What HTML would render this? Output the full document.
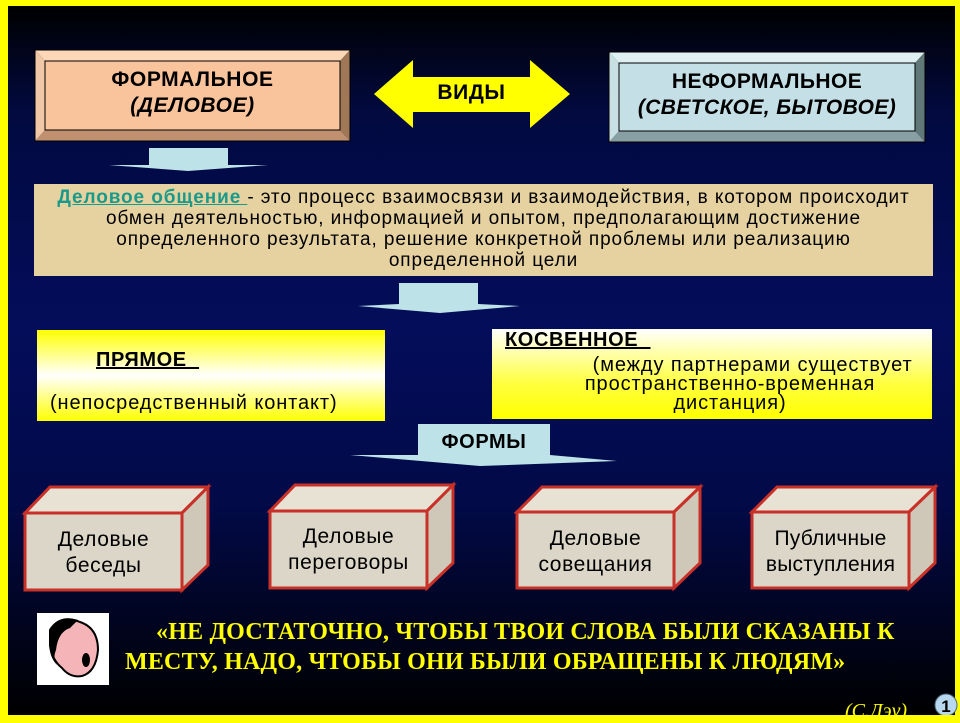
<!DOCTYPE html>
<html><head><meta charset="utf-8"><style>
*{margin:0;padding:0;box-sizing:border-box}
body{width:960px;height:720px;overflow:hidden;background:#ffff00;position:relative;font-family:"Liberation Sans",sans-serif}
#bg{position:absolute;left:8px;top:6px;width:947px;height:709px;background:linear-gradient(#000 0%,#020a40 15%,#030d5a 45%,#020a48 70%,#000 100%);overflow:hidden}
.abs{position:absolute}
.t{position:absolute;text-align:center;color:#000}
</style></head><body>
<div id="bg"></div>
<svg class="abs" style="left:0;top:0" width="960" height="720">
<defs>
<linearGradient id="yw" x1="0" y1="0" x2="0" y2="1"><stop offset="0" stop-color="#ffff00"/><stop offset="0.5" stop-color="#ffffff"/><stop offset="1" stop-color="#ffff00"/></linearGradient>
<linearGradient id="yw2" x1="0" y1="0" x2="0" y2="1"><stop offset="0" stop-color="#ffffff"/><stop offset="0.6" stop-color="#ffff40"/><stop offset="1" stop-color="#ffff00"/></linearGradient>
</defs>
<polygon points="35,50 350,50 340,61 45,61" fill="#fcd8b8"/>
<polygon points="350,50 350,141 340,130 340,61" fill="#a07858"/>
<polygon points="35,141 350,141 340,130 45,130" fill="#c09070"/>
<polygon points="35,50 45,61 45,130 35,141" fill="#f0c8a8"/>
<rect x="45" y="61" width="295" height="69" fill="#f9c39b" stroke="#000" stroke-width="1"/>
<rect x="35" y="50" width="315" height="91" fill="none" stroke="#000" stroke-width="1"/>
<polygon points="609,52 925,52 915,63 619,63" fill="#dff0f2"/>
<polygon points="925,52 925,142 915,131 915,63" fill="#607878"/>
<polygon points="609,142 925,142 915,131 619,131" fill="#88a0a4"/>
<polygon points="609,52 619,63 619,131 609,142" fill="#c8e0e4"/>
<rect x="619" y="63" width="296" height="68" fill="#c4e0e6" stroke="#000" stroke-width="1"/>
<rect x="609" y="52" width="316" height="90" fill="none" stroke="#000" stroke-width="1"/>
<polygon points="374,94 413,60 413,77 530,77 530,60 570,94 530,128 530,112 413,112 413,128" fill="#ffff00"/>
<polygon points="149,148 228,148 228,165 268,165 188,171 109,165 149,165" fill="#bde3e8"/>
<polygon points="399,283 478,283 478,304 520,306 440,313 358,306 399,304" fill="#bde3e8"/>
<polygon points="418,424 550,424 550,455 617,461 480,466 350,455 418,455" fill="#bde3e8"/>
<rect x="34" y="184" width="899" height="92" fill="#e6d2a0"/>
<rect x="37" y="330" width="348" height="91" fill="url(#yw)"/>
<rect x="492" y="329" width="440" height="90" fill="url(#yw2)"/>
<g stroke="#c83028" stroke-width="3" fill="#dcd6c8">
<g><polygon points="25,513 50,487 208,487 182,513" fill="#e8e2d4"/><polygon points="182,513 208,487 208,565 182,590" fill="#cfc8b8"/><rect x="25" y="513" width="157" height="77"/></g>
<g><polygon points="270,511 295,485 453,485 427,511" fill="#e8e2d4"/><polygon points="427,511 453,485 453,563 427,588" fill="#cfc8b8"/><rect x="270" y="511" width="157" height="77"/></g>
<g><polygon points="517,512 542,487 700,487 674,512" fill="#e8e2d4"/><polygon points="674,512 700,487 700,563 674,588" fill="#cfc8b8"/><rect x="517" y="512" width="157" height="76"/></g>
<g><polygon points="752,512 777,487 935,487 909,512" fill="#e8e2d4"/><polygon points="909,512 935,487 935,563 909,588" fill="#cfc8b8"/><rect x="752" y="512" width="157" height="76"/></g>
</g>
<rect x="37" y="613" width="72" height="72" fill="#fff"/>
<path d="M50,630 Q60,614 80,622 Q98,628 98,650 Q96,672 82,676 Q70,678 62,668 Q52,660 50,645 Z" fill="#f4b4b8" stroke="#000" stroke-width="2"/>
<path d="M50,630 Q58,614 78,620 L70,628 Q58,632 56,650 Q52,660 58,666 Q46,655 50,630Z" fill="#000"/>
<ellipse cx="86" cy="660" rx="4" ry="7" fill="#000"/>
<circle cx="946" cy="705" r="11" fill="#b8d8f0" stroke="#506878"/>
<text x="946" y="712" text-anchor="middle" font-family="Liberation Sans" font-weight="bold" font-size="17" fill="#000">1</text>
</svg>

<div class="t" style="left:35px;top:67px;width:315px;font-size:21px;letter-spacing:0.6px;font-weight:bold;line-height:26px">ФОРМАЛЬНОЕ<br><i>(ДЕЛОВОЕ)</i></div>
<div class="t" style="left:413px;top:81px;width:117px;font-size:21px;letter-spacing:0.6px;font-weight:bold">ВИДЫ</div>
<div class="t" style="left:609px;top:69px;width:316px;font-size:21px;letter-spacing:0.4px;font-weight:bold;line-height:26px;white-space:nowrap">НЕФОРМАЛЬНОЕ<br><i>(СВЕТСКОЕ, БЫТОВОЕ)</i></div>
<div class="t" style="left:34px;top:187px;width:899px;font-size:19px;letter-spacing:0.9px;line-height:21px;white-space:nowrap"><span style="color:#1a9a8a;font-weight:bold;text-decoration:underline">Деловое общение </span>- это процесс взаимосвязи и взаимодействия, в котором происходит<br>обмен деятельностью, информацией и опытом, предполагающим достижение<br>определенного результата, решение конкретной проблемы или реализацию<br>определенной цели</div>
<div class="t" style="left:96px;top:349px;font-size:20px;letter-spacing:0.6px;font-weight:bold;text-decoration:underline;white-space:pre">ПРЯМОЕ  </div>
<div class="t" style="left:50px;top:392px;font-size:20px;letter-spacing:0.9px;white-space:nowrap">(непосредственный контакт)</div>
<div class="t" style="left:505px;top:329px;font-size:20px;letter-spacing:0.6px;font-weight:bold;text-decoration:underline;white-space:pre">КОСВЕННОЕ  </div>
<div class="t" style="left:520px;top:356px;width:420px;font-size:20px;letter-spacing:0.9px;line-height:19px;white-space:nowrap">&nbsp;&nbsp;&nbsp;&nbsp;&nbsp;&nbsp;&nbsp;(между партнерами существует<br>пространственно-временная<br>дистанция)</div>
<div class="t" style="left:418px;top:431px;width:132px;font-size:20px;letter-spacing:0.6px;font-weight:bold">ФОРМЫ</div>
<div class="t" style="left:25px;top:527px;width:157px;font-size:21px;letter-spacing:0.6px;line-height:26px">Деловые<br>беседы</div>
<div class="t" style="left:270px;top:524px;width:157px;font-size:21px;letter-spacing:0.6px;line-height:26px">Деловые<br>переговоры</div>
<div class="t" style="left:517px;top:526px;width:157px;font-size:21px;letter-spacing:0.6px;line-height:26px">Деловые<br>совещания</div>
<div class="t" style="left:752px;top:526px;width:157px;font-size:21px;letter-spacing:0.2px;line-height:26px;white-space:nowrap">Публичные<br>выступления</div>
<div class="abs" style="left:125px;top:617px;width:820px;color:#ffff00;font-family:'Liberation Serif',serif;font-weight:bold;font-size:24px;letter-spacing:0.2px;line-height:30px;white-space:nowrap">&nbsp;&nbsp;&nbsp;&nbsp;&nbsp;«НЕ ДОСТАТОЧНО,  ЧТОБЫ  ТВОИ СЛОВА БЫЛИ СКАЗАНЫ К<br>МЕСТУ, НАДО, ЧТОБЫ ОНИ БЫЛИ ОБРАЩЕНЫ К ЛЮДЯМ»</div>
<div class="abs" style="left:845px;top:700px;color:#ffff00;font-family:'Liberation Serif',serif;font-style:italic;font-size:20px;clip-path:inset(0 0 5px 0)">(С.Дэу)</div>
<div class="abs" style="left:0;top:715px;width:960px;height:5px;background:#ffff00"></div>
</body></html>
